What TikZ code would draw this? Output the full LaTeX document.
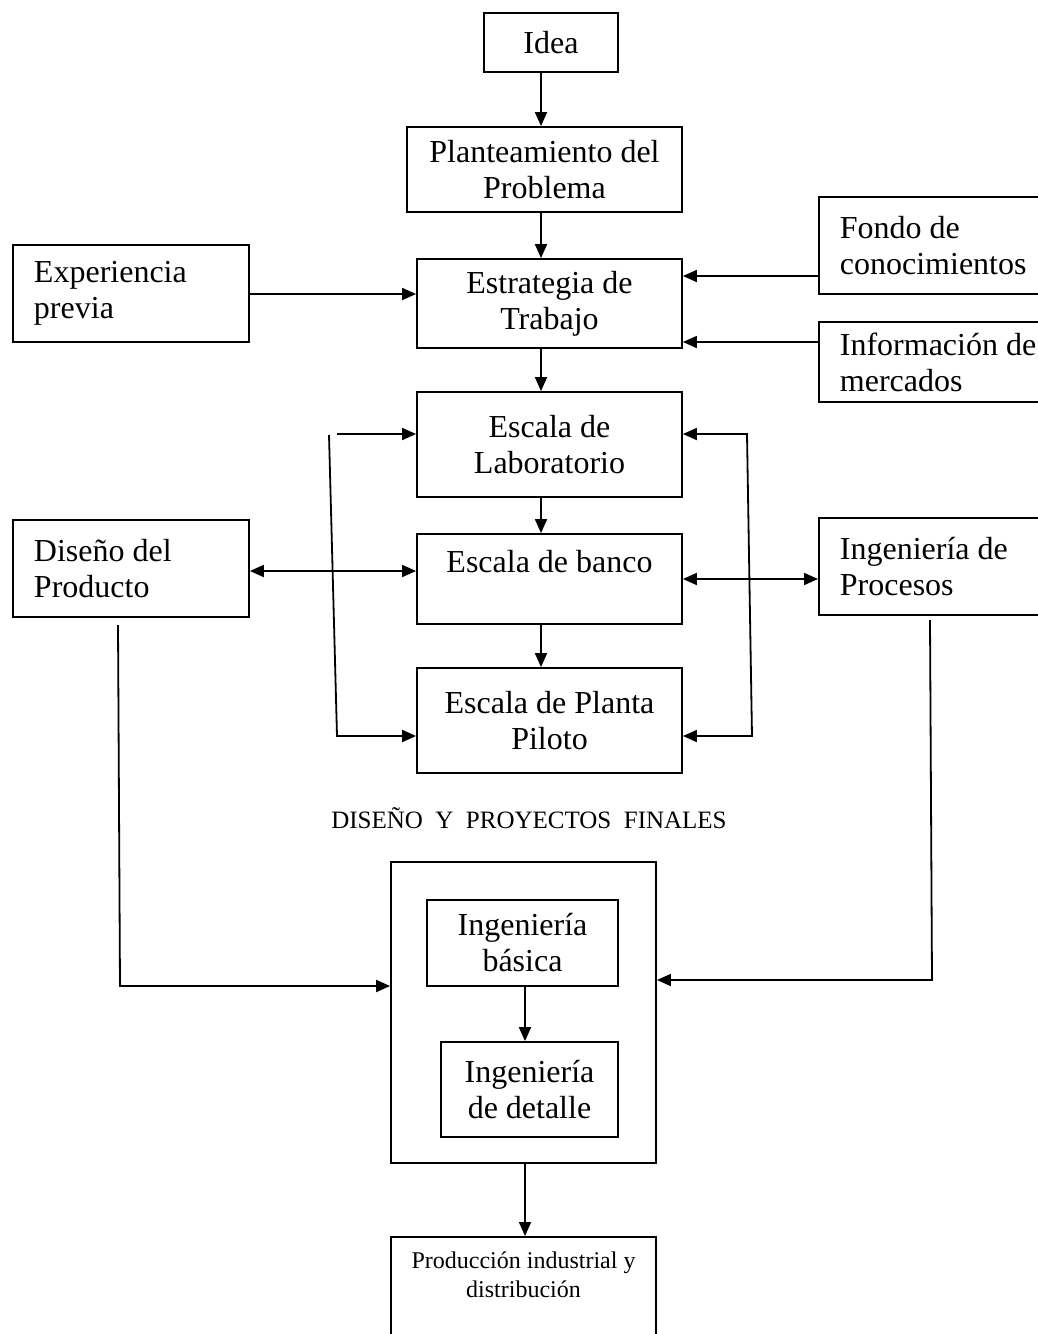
\documentclass[tikz,border=0pt]{standalone}
\usepackage{fontspec}
\setmainfont{Liberation Serif}
\usetikzlibrary{arrows.meta}
\newcommand{\boxfont}{\fontsize{32}{36}\selectfont}
\newcommand{\smallfont}{\fontsize{24}{29}\selectfont}

\begin{document}
\begin{tikzpicture}[x=1pt,y=-1pt,
  box/.style={draw, line width=1.8pt, inner sep=0pt, align=center, font=\boxfont},
  lbox/.style={box, align=flush left, inner xsep=21pt, text width=210pt},
  arr/.style={line width=1.8pt, -{Triangle[length=14pt,width=12pt]}},
  darr/.style={line width=1.8pt, {Triangle[length=14pt,width=12pt]}-{Triangle[length=14pt,width=12pt]}}]
\useasboundingbox (0,0) rectangle (1037,1334);
\coordinate (spine) at (541,0);
\coordinate (spine2) at (525,0);

\node [box, minimum width=134pt, minimum height=59pt] (idea) at (551,42.5) {Idea};
\node [box, minimum width=275pt, minimum height=85pt] (plant) at (544.5,169.5) {Planteamiento del\\Problema};
\node [box, minimum width=265pt, minimum height=89pt] (estr) at (549.5,303.5) {Estrategia de\\Trabajo};
\node [lbox, text width=194pt, minimum height=97pt] (exp) at (131,293.5) {Experiencia\\previa};
\node [lbox, anchor=west, minimum height=97pt] (fondo) at (818,245.5) {Fondo de\\conocimientos};
\node [lbox, anchor=west, minimum height=80pt] (info) at (818,362) {Información de\\mercados};

\node [box, minimum width=265pt, minimum height=105pt] (lab) at (549.5,444.5) {Escala de\\Laboratorio};
\node [box, minimum width=265pt, minimum height=90pt] (banco) at (549.5,579) {Escala de banco\\\mbox{}};
\node [box, minimum width=265pt, minimum height=105pt] (piloto) at (549.5,720.5) {Escala de Planta\\Piloto};
\node [lbox, text width=194pt, minimum height=97pt] (dis) at (131,568.5) {Diseño del\\Producto};
\node [lbox, anchor=west, minimum height=97pt] (proc) at (818,566.5) {Ingeniería de\\Procesos};

\node [font=\fontsize{25}{30}\selectfont] (titulo) at (529,818) {DISEÑO\ \ Y\ \ PROYECTOS\ \ FINALES};
\node [box, minimum width=265pt, minimum height=301pt] (fin) at (523.5,1012.5) {};
\node [box, minimum width=191pt, minimum height=86pt] (basica) at (522.5,943) {Ingeniería\\básica};
\node [box, minimum width=177pt, minimum height=95pt] (detalle) at (529.5,1089.5) {Ingeniería\\de detalle};
\node [box, minimum width=265pt, minimum height=110pt, anchor=north] (prod) at (523.5,1236) {};
\node [anchor=north, align=center, inner sep=0pt, font=\smallfont] (prodtxt) at ([yshift=-16pt]prod.north) {Producción industrial y\\distribución};

\draw [arr] (idea.south -| spine) -- (plant.north -| spine);
\draw [arr] (plant.south -| spine) -- (estr.north -| spine);
\draw [arr] ([yshift=-0.5pt]exp.east) coordinate (a0) -- (a0 -| estr.west);
\draw [arr] ([yshift=-30.5pt]fondo.west) coordinate (a1) -- (a1 -| estr.east);
\draw [arr] ([yshift=20pt]info.west) coordinate (a2) -- (a2 -| estr.east);
\draw [arr] (estr.south -| spine) -- (lab.north -| spine);
\draw [arr] (lab.south -| spine) -- (banco.north -| spine);
\draw [arr] (banco.south -| spine) -- (piloto.north -| spine);

\draw [darr] ([yshift=-2.5pt]dis.east) coordinate (a3) -- (a3 -| banco.west);
\draw [darr] (banco.east) -- (banco.east -| proc.west);

\coordinate (l1) at (337,434);
\coordinate (l2) at (329,435);
\coordinate (l3) at (337,736);
\draw [arr] (l1) -- (l1 -| lab.west);
\draw [arr] (l2) -- (l3) -- (l3 -| piloto.west);
\coordinate (r1) at (747,434);
\coordinate (r2) at (752,736);
\draw [darr] (r1 -| lab.east) -- (r1) -- (r2) -- (r2 -| piloto.east);

\coordinate (d1) at (118,625);
\coordinate (d2) at (120,986);
\draw [arr] (d1) -- (d2) -- (d2 -| fin.west);
\coordinate (p1) at (930,620);
\coordinate (p2) at (932,980);
\draw [arr] (p1) -- (p2) -- (p2 -| fin.east);

\draw [arr] (basica.south -| spine2) -- (detalle.north -| spine2);
\draw [arr] (fin.south -| spine2) -- (prod.north -| spine2);
\end{tikzpicture}
\end{document}
